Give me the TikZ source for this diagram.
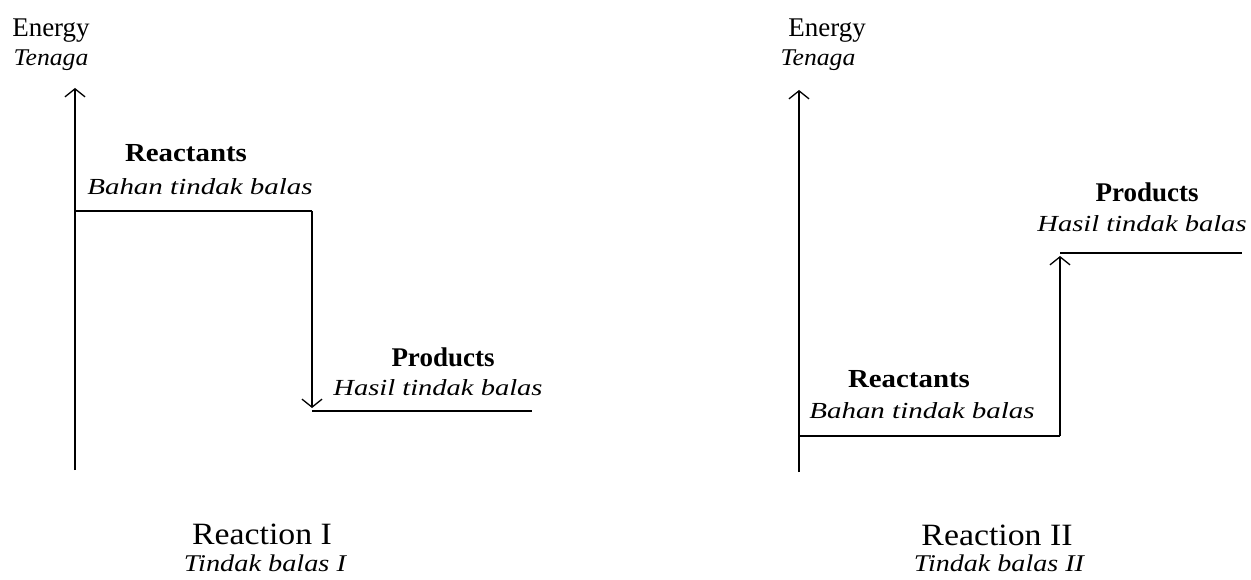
\documentclass[tikz,border=0pt]{standalone}
\usepackage{fontspec}
\setmainfont{Liberation Serif}
\usetikzlibrary{arrows.meta}

% horizontally stretched text at a given size
\newcommand\lbl[3]{\scalebox{#2}[1]{\fontsize{#1}{#1}\selectfont #3}}

\tikzset{
  axisline/.style={line width=1.5pt, -{Straight Barb[length=8pt,width=20pt,line width=1.3pt]}},
  levelline/.style={line width=1.7pt},
  stepline/.style={line width=1.7pt, -{Straight Barb[length=8pt,width=20pt,line width=1.3pt]}},
  txt/.style={inner sep=0pt, anchor=base}
}

\begin{document}
\begin{tikzpicture}[x=1pt,y=-1pt]
\useasboundingbox (0,0) rectangle (1251,580);

% ---------- Reaction I (exothermic) ----------
\node[txt] (en1) at (51,37) {\lbl{27}{1.0}{Energy}};
\node[txt] (te1) at (51,66) {\lbl{24}{1.07}{\itshape Tenaga}};

\coordinate (o1) at (75,470);
\coordinate (top1) at (75,88);
\coordinate (r1a) at (75,211);
\coordinate (r1b) at (312,211);
\coordinate (p1tip) at (312,408);
\coordinate (p1a) at (312,411);
\coordinate (p1b) at (532,411);

\draw[axisline] (o1) -- (top1);
\draw[levelline] (r1a) -- (r1b);
\draw[stepline] (r1b) -- (p1tip);
\draw[levelline] (p1a) -- (p1b);

\node[txt] (re1) at (186,162) {\lbl{26}{1.11}{\bfseries Reactants}};
\node[txt] (bt1) at (200,195) {\lbl{23}{1.26}{\itshape Bahan tindak balas}};
\node[txt] (pr1) at (443,366) {\lbl{27}{1.0}{\bfseries Products}};
\node[txt] (ht1) at (438,395) {\lbl{23}{1.24}{\itshape Hasil tindak balas}};

\node[txt] (rx1) at (262,544) {\lbl{31}{1.09}{Reaction I}};
\node[txt] (tb1) at (265,571) {\lbl{24}{1.18}{\itshape Tindak balas I}};

% ---------- Reaction II (endothermic) ----------
\node[txt] (en2) at (827,37) {\lbl{27}{1.0}{Energy}};
\node[txt] (te2) at (818,66) {\lbl{24}{1.07}{\itshape Tenaga}};

\coordinate (o2) at (799,472);
\coordinate (top2) at (799,90);
\coordinate (r2a) at (799,436);
\coordinate (r2b) at (1060,436);
\coordinate (p2tip) at (1060,256);
\coordinate (p2a) at (1060,253);
\coordinate (p2b) at (1242,253);

\draw[axisline] (o2) -- (top2);
\draw[levelline] (r2a) -- (r2b);
\draw[stepline] (r2b) -- (p2tip);
\draw[levelline] (p2a) -- (p2b);

\node[txt] (re2) at (909,387) {\lbl{26}{1.11}{\bfseries Reactants}};
\node[txt] (bt2) at (922,418) {\lbl{23}{1.26}{\itshape Bahan tindak balas}};
\node[txt] (pr2) at (1147,202) {\lbl{27}{1.0}{\bfseries Products}};
\node[txt] (ht2) at (1142,232) {\lbl{23}{1.24}{\itshape Hasil tindak balas}};

\node[txt] (rx2) at (997,545) {\lbl{31}{1.09}{Reaction II}};
\node[txt] (tb2) at (999,571) {\lbl{24}{1.17}{\itshape Tindak balas II}};
\end{tikzpicture}
\end{document}
